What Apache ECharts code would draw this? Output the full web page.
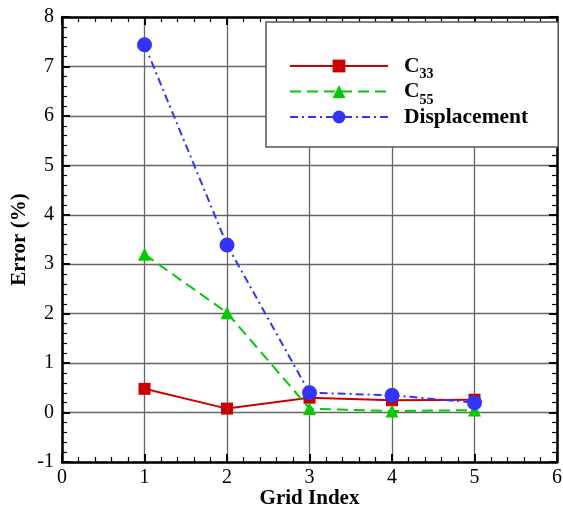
<!DOCTYPE html>
<html>
<head>
<meta charset="utf-8">
<script src="https://cdn.jsdelivr.net/npm/echarts@6/dist/echarts.min.js"></script>
<style>html,body{margin:0;padding:0;background:#fff;}#c{width:563px;height:508px;}</style>
</head>
<body>
<div id="c"></div>
<script>
const gridIndex = [1, 2, 3, 4, 5];
const c33 = [0.48, 0.08, 0.30, 0.25, 0.26];
const c55 = [3.20, 2.02, 0.08, 0.03, 0.05];
const displacement = [7.44, 3.39, 0.40, 0.35, 0.20];
const seriesNames = ['C33', 'C55', 'Displacement'];
const xTicks = [0, 1, 2, 3, 4, 5, 6];
const yTicks = [-1, 0, 1, 2, 3, 4, 5, 6, 7, 8];

const FONT = 'Liberation Serif';
const pairs = arr => gridIndex.map((x, i) => [x, arr[i]]);

function axisBase(show) {
  return {
    type: 'value',
    axisLine: { show: true, onZero: false, lineStyle: { color: '#000', width: 2.5 } },
    axisTick: { show: true, inside: true, length: 8, lineStyle: { color: '#000', width: 2 } },
    minorTick: { show: true, splitNumber: 5, length: 5, lineStyle: { color: '#000', width: 1.2 } },
    axisLabel: { show: show, fontFamily: FONT, fontSize: 20, color: '#000' },
  };
}

const chart = echarts.init(document.getElementById('c'));
chart.setOption({
  animation: false,
  backgroundColor: '#fff',
  grid: { left: 62, right: 6, top: 17, bottom: 46, containLabel: false, outerBoundsMode: 'none' },
  xAxis: [
    Object.assign(axisBase(true), {
      min: xTicks[0], max: xTicks[xTicks.length - 1], interval: 1, position: 'bottom',
      splitLine: { show: true, lineStyle: { color: '#666', width: 1.3 } },
      axisLabel: { fontFamily: FONT, fontSize: 20, color: '#000', margin: 6 },
      name: 'Grid Index', nameLocation: 'middle', nameGap: 26, nameMoveOverlap: false,
      nameTextStyle: { fontFamily: FONT, fontSize: 21, fontWeight: 'bold', color: '#000' }
    }),
    Object.assign(axisBase(false), {
      min: xTicks[0], max: xTicks[xTicks.length - 1], interval: 1, position: 'top',
      splitLine: { show: false }
    })
  ],
  yAxis: [
    Object.assign(axisBase(true), {
      min: yTicks[0], max: yTicks[yTicks.length - 1], interval: 1, position: 'left',
      splitLine: { show: true, lineStyle: { color: '#666', width: 1.3 } },
      axisLabel: { fontFamily: FONT, fontSize: 20, color: '#000', margin: 8 },
      name: 'Error (%)', nameLocation: 'middle', nameGap: 32, nameMoveOverlap: false,
      nameTextStyle: { fontFamily: FONT, fontSize: 21, fontWeight: 'bold', color: '#000' }
    }),
    Object.assign(axisBase(false), {
      min: yTicks[0], max: yTicks[yTicks.length - 1], interval: 1, position: 'right',
      splitLine: { show: false }
    })
  ],
  legend: {
    data: seriesNames,
    orient: 'vertical',
    left: 266, top: 22,
    padding: [33, 30, 19, 23],
    itemWidth: 98, itemHeight: 16, itemGap: -1,
    backgroundColor: '#fff',
    borderColor: '#555', borderWidth: 1.5,
    formatter: function (name) {
      if (name === 'C33') return '{b|C}{s|33}';
      if (name === 'C55') return '{b|C}{s|55}';
      return '{b|' + name + '}';
    },
    textStyle: {
      padding: [0, 0, 0, 11],
      rich: {
        b: { fontFamily: FONT, fontSize: 21.5, fontWeight: 'bold', color: '#000', lineHeight: 31 },
        s: { fontFamily: FONT, fontSize: 14, fontWeight: 'bold', color: '#000', lineHeight: 14, verticalAlign: 'bottom' }
      }
    }
  },
  series: [
    {
      name: seriesNames[0], type: 'line', data: pairs(c33),
      symbol: 'rect', symbolSize: 12,
      itemStyle: { color: '#cc0000' },
      lineStyle: { color: '#cc0000', width: 2 }, z: 3
    },
    {
      name: seriesNames[1], type: 'line', data: pairs(c55),
      symbol: 'triangle', symbolSize: 13,
      itemStyle: { color: '#00cc00' },
      lineStyle: { color: '#00cc00', width: 2, type: [11, 6] }, z: 4
    },
    {
      name: seriesNames[2], type: 'line', data: pairs(displacement),
      symbol: 'circle', symbolSize: 15,
      itemStyle: { color: '#3333ff' },
      lineStyle: { color: '#3333ff', width: 2, type: [8, 4, 2, 4] }, z: 5
    }
  ]
});
</script>
</body>
</html>
